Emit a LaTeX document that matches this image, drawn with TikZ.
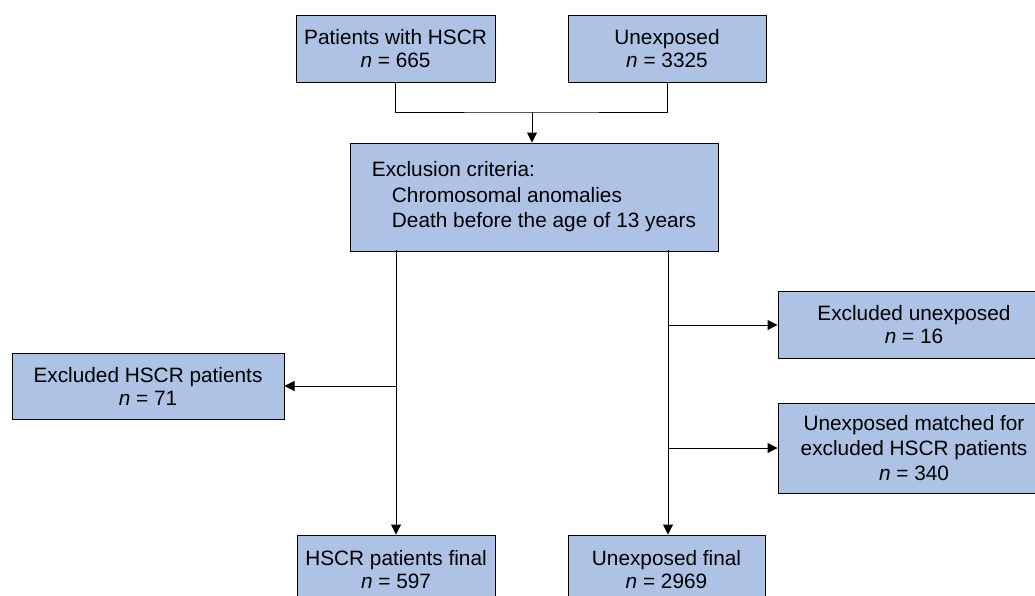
\documentclass[tikz,border=0pt]{standalone}
\usepackage{fontspec}
\setmainfont{Liberation Sans}
\usetikzlibrary{arrows.meta}
\definecolor{boxblue}{RGB}{174,194,230}
\begin{document}
\begin{tikzpicture}[x=1pt,y=-1pt,
  box/.style={draw=black, line width=1pt, fill=boxblue, align=center, inner sep=0pt,
    font=\fontsize{20.8}{23}\selectfont},
  arr/.style={-{Triangle[length=10pt,width=10pt]}, line width=1pt},
  ln/.style={line width=1pt}]
\useasboundingbox (0,0) rectangle (1035,595);
\clip (0,0) rectangle (1035,595);
% top boxes
\node[box, minimum width=199pt, minimum height=67pt] (A) at (395.5,48.5) {Patients with HSCR\\\textit{n} = 665};
\node[box, minimum width=198pt, minimum height=67pt] (B) at (667,48.5) {Unexposed\\\textit{n} = 3325};
% exclusion
\node[box, minimum width=368pt, minimum height=108pt, align=left,
  font=\fontsize{20.8}{25.5}\selectfont] (E) at (534,197)
  {Exclusion criteria:\\\hspace*{20pt}Chromosomal anomalies\\\hspace*{20pt}Death before the age of 13 years};
% side boxes
\node[box, minimum width=272pt, minimum height=66pt] (XH) at (148,386) {Excluded HSCR patients\\\textit{n} = 71};
\node[box, minimum width=272pt, minimum height=67pt] (XU) at (914,325) {Excluded unexposed\\\textit{n} = 16};
\node[box, minimum width=272pt, minimum height=90pt, font=\fontsize{20.8}{25}\selectfont] (UM) at (914,448) {Unexposed matched for\\excluded HSCR patients\\\textit{n} = 340};
% bottom boxes
\node[box, minimum width=198pt, minimum height=69pt] (HF) at (396,569.5) {HSCR patients final\\\textit{n} = 597};
\node[box, minimum width=197pt, minimum height=69pt] (UF) at (666.5,569.5) {Unexposed final\\\textit{n} = 2969};
% connectors
\coordinate (J) at (532,112);
\draw[ln] (A.south) |- (J) -| (B.south);
\draw[arr] (J) -- (J |- E.north);
\coordinate (L) at (396,250);
\coordinate (R) at (668,250);
\draw[arr] (L) -- (L |- HF.north);
\draw[arr] (R) -- (R |- UF.north);
\draw[arr] (L |- XH.east) -- (XH.east);
\draw[arr] (R |- XU.west) -- (XU.west);
\draw[arr] (R |- UM.west) -- (UM.west);
\end{tikzpicture}
\end{document}
